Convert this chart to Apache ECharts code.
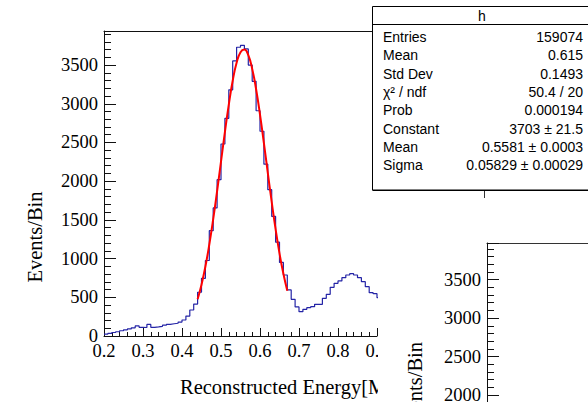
<!DOCTYPE html>
<html><head><meta charset="utf-8">
<script src="https://cdn.jsdelivr.net/npm/echarts@6/dist/echarts.min.js"></script>
<style>html,body{margin:0;padding:0;background:#fff}#c{width:588px;height:402px}</style>
</head><body><div id="c"></div>
<script>
// ---- data ----
const binLow = 0.20;
const binWidth = 0.01;
const counts = [
  25, 35, 45, 55, 68, 80, 92, 105, 130, 112,
  110, 150, 112, 118, 125, 140, 150, 158, 165, 180,
  207, 258, 336, 413, 565, 745, 975, 1360, 1655, 2020,
  2480, 2812, 3180, 3553, 3730, 3755, 3708, 3500, 3290, 2910,
  2645, 2220, 1890, 1545, 1212, 950, 788, 595, 474, 376,
  314, 345, 366, 379, 409, 409, 487, 539, 629, 681,
  711, 753, 788, 805, 788, 753, 702, 637, 560, 547,
  495
];
const fitX = [0.44,0.45,0.46,0.47,0.48,0.49,0.50,0.51,0.52,0.53,0.54,0.55,0.56,0.57,0.58,0.59,0.60,0.61,0.62,0.63,0.64,0.65,0.66,0.67];
const fitY = [475,663,898,1182,1509,1872,2253,2635,2990,3297,3529,3667,3701,3627,3451,3188,2860,2492,2107,1732,1380,1068,804,586];
const xTickLabels = ['0.2','0.3','0.4','0.5','0.6','0.7','0.8','0.9'];
const yTickLabels = ['0','500','1000','1500','2000','2500','3000','3500'];
const statsTitle = 'h';
const statsNames = ['Entries','Mean','Std Dev','χ² / ndf','Prob','Constant','Mean','Sigma'];
const statsValues = ['159074','0.615','0.1493','50.4 / 20','0.000194','3703 ± 21.5','0.5581 ± 0.0003','0.05829 ± 0.00029'];
const xTitle = 'Reconstructed Energy[MeV]';
const yTitle = 'Events/Bin';

// ---- build ----
const histData = counts.map((v, i) => [+(binLow + i * binWidth).toFixed(2), v]);
histData.push([+(binLow + counts.length * binWidth).toFixed(2), counts[counts.length - 1]]);
const fitData = fitX.map((x, i) => [x, fitY[i]]);

const serif = 'Liberation Serif';
const sans = 'Liberation Sans';
const axisCol = '#111';

function yAxisDef(grid, max, z) {
  return {
    gridIndex: grid, type: 'value', min: 0, max: max, interval: 500, z: z,
    axisLine: {show: true, onZero: false, lineStyle: {color: axisCol, width: 1}},
    axisTick: {show: true, inside: true, length: 12, lineStyle: {color: axisCol}},
    minorTick: {show: true, splitNumber: 5, length: 7, lineStyle: {color: axisCol}},
    splitLine: {show: false},
    axisLabel: {
      fontFamily: serif, fontSize: 18.5, color: '#000', margin: 6, showMaxLabel: true,
      formatter: v => { const s = String(Math.round(v)); return yTickLabels.indexOf(s) >= 0 && Math.abs(v - Math.round(v)) < 1e-6 ? s : ''; }
    }
  };
}

const ch = echarts.init(document.getElementById('c'), null, {renderer: 'svg'});
const statsEls = [
  {type: 'rect', shape: {x: 372.5, y: 6.5, width: 222, height: 183.5}, style: {fill: '#fff', stroke: '#000', lineWidth: 1}, z: 100},
  {type: 'line', shape: {x1: 372.5, y1: 190.5, x2: 594, y2: 190.5}, style: {stroke: '#000', lineWidth: 1}, z: 100},
  {type: 'line', shape: {x1: 372.5, y1: 24.5, x2: 594, y2: 24.5}, style: {stroke: '#000', lineWidth: 1}, z: 100},
  {type: 'text', x: 482, y: 16, z: 101, style: {text: statsTitle, font: '14px ' + sans, fill: '#000', align: 'center', verticalAlign: 'middle', textAlign: 'center', textVerticalAlign: 'middle'}}
];
statsNames.forEach((n, i) => {
  const y = 37 + i * 18.35;
  statsEls.push({type: 'text', x: 383, y: y, z: 101, style: {text: n, font: '14px ' + sans, fill: '#000', align: 'left', verticalAlign: 'middle', textAlign: 'left', textVerticalAlign: 'middle'}});
  statsEls.push({type: 'text', x: 583, y: y, z: 101, style: {text: statsValues[i], font: '14px ' + sans, fill: '#000', align: 'right', verticalAlign: 'middle', textAlign: 'right', textVerticalAlign: 'middle'}});
});

ch.setOption({
  animation: false,
  backgroundColor: '#fff',
  grid: [
    {left: 104, top: 31, width: 273, height: 305, outerBoundsMode: 'none', containLabel: false},
    {left: 487, top: 243, width: 300, height: 306, outerBoundsMode: 'none', containLabel: false}
  ],
  xAxis: [
    {
      gridIndex: 0, type: 'value', min: 0.2, max: 0.9, interval: 0.1, position: 'bottom',
      axisLine: {show: true, onZero: false, lineStyle: {color: axisCol, width: 1}},
      axisTick: {show: true, inside: true, length: 8, lineStyle: {color: axisCol}},
      minorTick: {show: true, splitNumber: 5, length: 4, lineStyle: {color: axisCol}},
      splitLine: {show: false},
      axisLabel: {fontFamily: serif, fontSize: 18.5, color: '#000', margin: 5,
        formatter: v => { const s = v.toFixed(1); return xTickLabels.indexOf(s) >= 0 ? s : ''; }}
    },
    {
      gridIndex: 0, type: 'value', min: 0.2, max: 0.9, position: 'top',
      axisLine: {show: true, onZero: false, lineStyle: {color: axisCol, width: 1}},
      axisTick: {show: false}, axisLabel: {show: false}, splitLine: {show: false}
    },
    {
      gridIndex: 1, type: 'value', min: 0, max: 1, position: 'top', z: 60,
      axisLine: {show: true, onZero: false, lineStyle: {color: '#333', width: 1.2}},
      axisTick: {show: false}, axisLabel: {show: false}, splitLine: {show: false}
    }
  ],
  yAxis: [yAxisDef(0, 3940, 0), yAxisDef(1, 3975, 60)],
  series: [
    {
      type: 'line', xAxisIndex: 0, yAxisIndex: 0, data: histData, step: 'end',
      showSymbol: false, symbol: 'none', clip: true, z: 2,
      lineStyle: {color: '#2424a6', width: 1.2}
    },
    {
      type: 'line', xAxisIndex: 0, yAxisIndex: 0, data: fitData, smooth: true,
      showSymbol: false, symbol: 'none', clip: true, z: 3,
      lineStyle: {color: '#ff0000', width: 2}
    }
  ],
  graphic: {elements: [
    {type: 'text', x: 35, y: 237, rotation: Math.PI / 2, z: 10,
      style: {text: yTitle, font: '20.5px ' + serif, fill: '#000', align: 'center', verticalAlign: 'middle', textAlign: 'center', textVerticalAlign: 'middle'}},
    {type: 'text', x: 180, y: 387, z: 10,
      style: {text: xTitle, font: '20.5px ' + serif, fill: '#000', align: 'left', verticalAlign: 'middle', textAlign: 'left', textVerticalAlign: 'middle'}},
    {type: 'rect', shape: {x: 378, y: 188, width: 212, height: 216}, style: {fill: '#fff'}, z: 50},
    {type: 'text', x: 415, y: 342, rotation: Math.PI / 2, z: 70,
      style: {text: yTitle, font: '20.5px ' + serif, fill: '#000', align: 'right', verticalAlign: 'middle', textAlign: 'right', textVerticalAlign: 'middle'}},
    {type: 'line', shape: {x1: 484.5, y1: 190, x2: 484.5, y2: 198}, style: {stroke: '#333', lineWidth: 1}, z: 100}
  ].concat(statsEls)}
});
</script></body></html>
